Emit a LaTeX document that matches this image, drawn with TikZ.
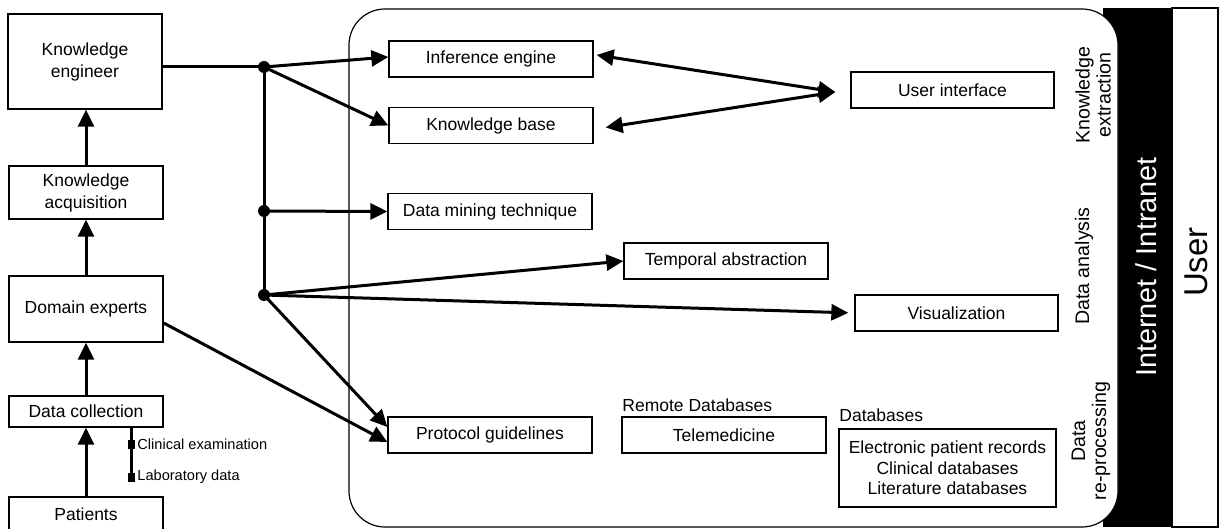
\documentclass[tikz,border=0pt]{standalone}
\usepackage{fontspec}
\setmainfont{Liberation Sans}
\usetikzlibrary{arrows.meta,calc}
\begin{document}
\begin{tikzpicture}[x=0.5pt,y=-0.5pt,
  box/.style={draw,line width=0.65pt,inner sep=0pt,align=center,
    font=\fontsize{8.75}{11}\selectfont},
  wbox/.style={box,minimum width=102pt,minimum height=18pt},
  lbox/.style={box,minimum width=77pt},
  conn/.style={line width=1.5pt},
  arr/.style={conn,-{Triangle[length=8.5pt,width=8pt]}},
  dblarr/.style={conn,{Triangle[length=8.5pt,width=8pt]}-{Triangle[length=8.5pt,width=8pt]}},
  dot/.style={circle,fill,inner sep=0pt,minimum size=6pt},
  side/.style={rotate=90,align=center,inner sep=0pt,font=\fontsize{9.8}{10.5}\selectfont},
  lbl/.style={anchor=west,inner sep=0pt,font=\fontsize{8.75}{11}\selectfont},
  small/.style={anchor=west,inner sep=0pt,font=\fontsize{7.3}{9}\selectfont},
  marker/.style={fill,inner sep=0pt,minimum width=3.5pt,minimum height=4.5pt}]

\useasboundingbox (0,0) rectangle (1220,529);

% network bar, system frame and user column
\fill (1103,8) rectangle (1172,527);
\draw[line width=0.6pt,fill=white,rounded corners=18pt] (349,9) rectangle (1118,527);
\draw[line width=0.65pt] (1172,8) rectangle (1218,527);

% left column
\node[lbox,minimum height=47.5pt] (ke) at (85,61.5) {Knowledge\\engineer};
\node[lbox,minimum height=26.5pt] (ka) at (86,192.5) {Knowledge\\acquisition};
\node[lbox,minimum height=33pt] (de) at (86,309) {Domain experts};
\node[lbox,minimum height=15.5pt] (dc) at (86,411.5) {Data collection};
\node[lbox,minimum height=17.5pt] (pt) at (86,514.5) {Patients};

% system components
\node[wbox] (ie) at (491,59) {Inference engine};
\node[wbox] (kb) at (491,125.5) {Knowledge base};
\node[wbox] (dmt) at (490,211.5) {Data mining technique};
\node[wbox] (ta) at (726,261) {Temporal abstraction};
\node[wbox,minimum width=101.5pt] (vis) at (956.5,313) {Visualization};
\node[wbox,minimum width=101.5pt] (ui) at (952.5,90) {User interface};
\node[wbox] (pg) at (490,435) {Protocol guidelines};
\node[wbox] (tm) at (724,435) {Telemedicine};
\node[box,minimum width=108.5pt,minimum height=39pt,
      font=\fontsize{8.75}{10.25}\selectfont] (db) at (947.5,468)
  {Electronic patient records\\Clinical databases\\Literature databases};

\node[lbl] (rdlabel) at (622,405) {Remote Databases};
\node[lbl] (dblabel) at (839,415) {Databases};

% junctions
\node[dot] (j1) at (264,67) {};
\node[dot] (j2) at (264,211) {};
\node[dot] (j3) at (264,295) {};

% knowledge engineer distribution
\draw[conn] (ke.east |- j1) -- (j1.center);
\draw[conn] (j1.center) -- (j3.center);
\draw[arr] (j1.center) -- ([yshift=1pt]ie.west);
\draw[arr] (j1.center) -- (kb.west);
\draw[arr] (j2.center) -- (dmt.west);
\draw[arr] (j3.center) -- (ta.west);
\draw[arr,shorten >=3pt] (j3.center) -- (vis.west);
\draw[arr] (j3.center) -- ([yshift=4pt]pg.west);
\draw[arr] ([yshift=-7pt]de.east) -- ([yshift=-3.5pt]pg.west);

% user interface links
\coordinate (uip) at ($(ui.west)+(-15,2)$);
\draw[dblarr] ([shift={(1.5pt,2pt)}]ie.east) -- (uip);
\draw[dblarr] ([shift={(6pt,-1pt)}]kb.east) -- (uip);

% acquisition chain
\draw[arr] (ka.north) -- (ka.north |- ke.south);
\draw[arr] (de.north) -- (ka.south);
\draw[arr] (dc.north) -- (de.south);
\draw[arr] (pt.north) -- (dc.south);

% data sources of the collection step
\node[marker] (sq1) at (131,444) {};
\node[marker] (sq2) at (131,477) {};
\draw[conn] (dc.south -| sq1) -- (sq2.center);
\node[small] (ce) at (137,444) {Clinical examination};
\node[small] (ld) at (137,477) {Laboratory data};

% layer and column titles
\node[side] (kx) at (1093,95) {Knowledge\\extraction};
\node[side] (da) at (1084,266) {Data analysis};
\node[side] (drp) at (1091,441) {Data\\re-processing};
\node[rotate=90,inner sep=0pt,text=white,font=\fontsize{14.4}{16}\selectfont] (net) at (1146,267) {Internet / Intranet};
\node[rotate=90,inner sep=0pt,font=\fontsize{16.5}{18}\selectfont] (usr) at (1196,262) {User};
\end{tikzpicture}
\end{document}
